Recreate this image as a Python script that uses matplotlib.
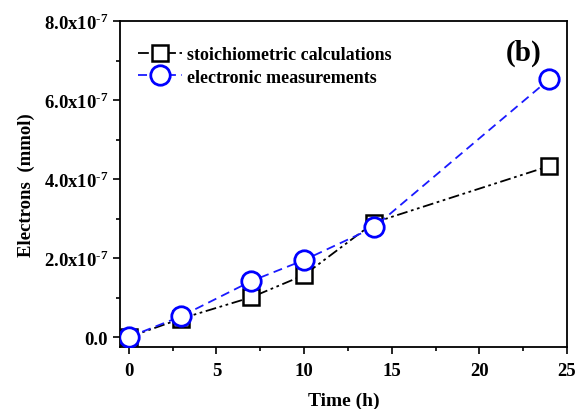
import matplotlib
matplotlib.use("Agg")
import matplotlib.pyplot as plt
from matplotlib.ticker import FixedLocator, FuncFormatter

# data
time_h = [0, 3, 7, 10, 14, 24]
stoich = [0.0, 0.47e-7, 1.01e-7, 1.57e-7, 2.90e-7, 4.33e-7]
electro = [0.0, 0.53e-7, 1.42e-7, 1.95e-7, 2.78e-7, 6.53e-7]
y_ticks = [0.0, 2.0e-7, 4.0e-7, 6.0e-7, 8.0e-7]
x_ticks = [0, 5, 10, 15, 20, 25]

plt.rcParams['font.family'] = ['Liberation Serif', 'DejaVu Serif']
plt.rcParams['font.weight'] = 'bold'
plt.rcParams['mathtext.fontset'] = 'custom'
plt.rcParams['mathtext.rm'] = 'Liberation Serif:bold'
plt.rcParams['mathtext.bf'] = 'Liberation Serif:bold'

fig = plt.figure(figsize=(5.77, 4.10), dpi=100)
ax = fig.add_axes([120 / 577, 1 - 348 / 410, 447 / 577, 326 / 410])

ax.plot(time_h, stoich, color='black', lw=1.3,
        linestyle=(0, (6, 2, 1.5, 2, 1.5, 2)),
        marker='s', ms=11, mfc='white', mec='black', mew=1.8,
        label='stoichiometric calculations', zorder=3)
ax.plot(time_h, electro, color='#1a1aff', lw=1.3,
        linestyle=(0, (5, 3)),
        marker='o', ms=14, mfc='white', mec='#0000ff', mew=2.0,
        label='electronic measurements', zorder=4)

ax.set_xlim(-0.5, 25)
ax.set_ylim(-0.25e-7, 8.0e-7)

ax.xaxis.set_major_locator(FixedLocator(x_ticks))
ax.xaxis.set_minor_locator(FixedLocator([2.5, 7.5, 12.5, 17.5, 22.5]))
ax.yaxis.set_major_locator(FixedLocator(y_ticks))
ax.yaxis.set_minor_locator(FixedLocator([1e-7, 3e-7, 5e-7, 7e-7]))


def yfmt(v, pos):
    if v == 0:
        return '0.0'
    m = v / 1e-7
    return '%.1fx10$^{\u2010 7}$' % m


ax.yaxis.set_major_formatter(FuncFormatter(yfmt))
ax.tick_params(axis='both', which='major', direction='out', length=5,
               width=1.2, labelsize=13.5)
ax.tick_params(axis='x', which='major', pad=6)
ax.tick_params(axis='both', which='minor', direction='out', length=3,
               width=1.2)
for lab in ax.get_xticklabels() + ax.get_yticklabels():
    lab.set_fontweight('bold')
for sp in ax.spines.values():
    sp.set_linewidth(1.3)

ax.set_xlabel('Time (h)', fontsize=14, fontweight='bold', labelpad=9)
ax.set_ylabel('Electrons  (mmol)', fontsize=13.5, fontweight='bold', labelpad=6)

ax.text(0.942, 0.905, '(b)', transform=ax.transAxes, ha='right', va='center',
        fontsize=21, fontweight='bold')

leg = ax.legend(loc='upper left', frameon=False,
                handlelength=2.4, handletextpad=0.3, labelspacing=0.3,
                borderaxespad=0.0, bbox_to_anchor=(0.025, 0.945),
                prop={'weight': 'bold', 'size': 13})

fig.savefig('out.png', dpi=100)
